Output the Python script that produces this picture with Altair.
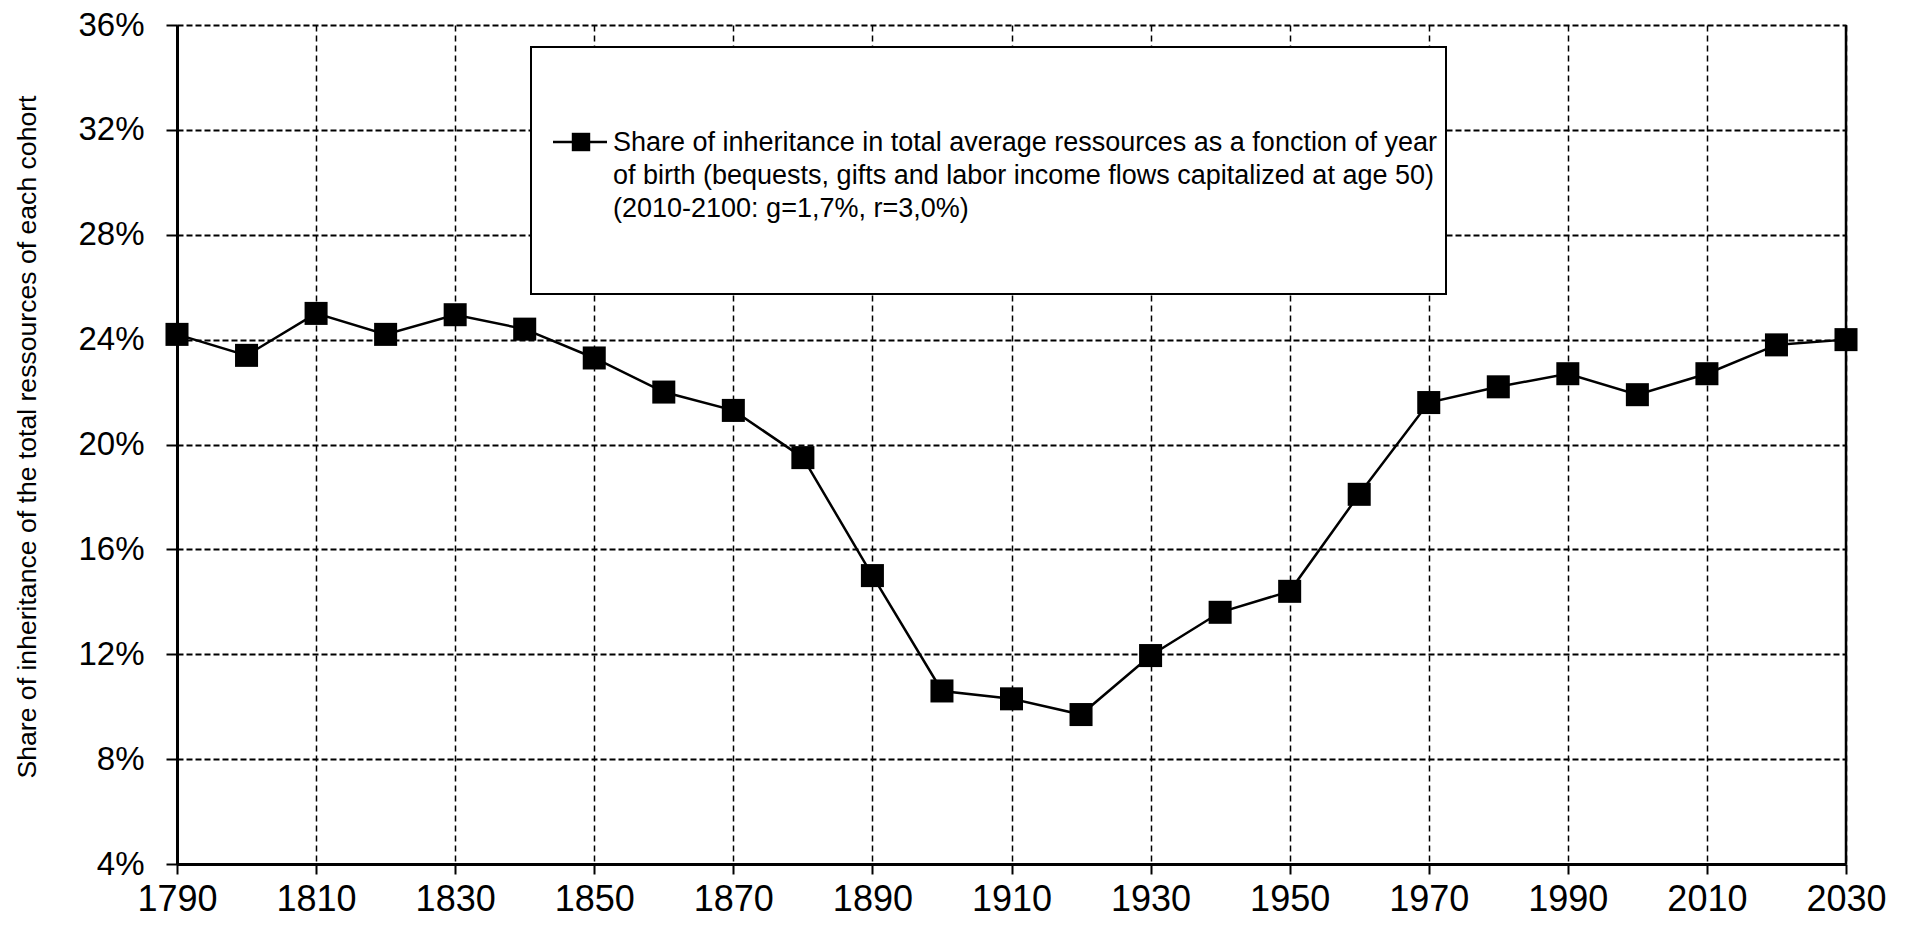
import altair as alt
import pandas as pd

# ---- data ----
years = [1790, 1800, 1810, 1820, 1830, 1840, 1850, 1860, 1870, 1880, 1890, 1900,
         1910, 1920, 1930, 1940, 1950, 1960, 1970, 1980, 1990, 2000, 2010, 2020, 2030]
shares = [24.2, 23.4, 25.0, 24.2, 24.95, 24.4, 23.3, 22.0, 21.3, 19.5, 15.0, 10.6,
          10.3, 9.7, 11.95, 13.6, 14.4, 18.1, 21.6, 22.2, 22.7, 21.9, 22.7, 23.8, 24.0]
y_ticks = [4, 8, 12, 16, 20, 24, 28, 32, 36]
x_ticks = [1790, 1810, 1830, 1850, 1870, 1890, 1910, 1930, 1950, 1970, 1990, 2010, 2030]
y_title = "Share of inheritance of the total ressources of each cohort"
legend_lines = [
    "Share of inheritance in total average ressources as a fonction of year",
    "of birth (bequests, gifts and labor income flows capitalized at age 50)",
    "(2010-2100: g=1,7%, r=3,0%)",
]

df = pd.DataFrame({"year": years, "share": shares})
one = pd.DataFrame({"a": [0]})

W, H = 1669, 839
FONT = "Liberation Sans"

xs = alt.Scale(domain=[1790, 2030], nice=False, zero=False)
ys = alt.Scale(domain=[4, 36], nice=False, zero=False)

x_axis = alt.Axis(values=x_ticks, format="d", title=None,
                  labelFontSize=36, labelFont=FONT, labelColor="black", labelPadding=8,
                  labelFlush=False, labelOverlap=False, labelBound=False,
                  tickSize=10, tickColor="black", tickWidth=2,
                  domainColor="black", domainWidth=3,
                  grid=True, gridColor="black", gridDash=[6, 4], gridWidth=1.5)
y_axis = alt.Axis(values=y_ticks, labelExpr="datum.value + '%'", title=y_title,
                  labelFontSize=33, labelFont=FONT, labelColor="black", labelPadding=22,
                  labelFlush=False, labelOverlap=False,
                  tickSize=11, tickColor="black", tickWidth=2,
                  domainColor="black", domainWidth=3,
                  grid=True, gridColor="black", gridDash=[6, 3], gridWidth=2,
                  titleFont=FONT, titleFontSize=26.6, titleFontWeight="normal", titleColor="black",
                  titleAngle=270, titleX=-150, titleY=H / 2 - 8, titleAlign="center",
                  titleBaseline="middle")

base = alt.Chart(df)
line = base.mark_line(color="black", strokeWidth=2.5).encode(
    x=alt.X("year:Q", scale=xs, axis=x_axis),
    y=alt.Y("share:Q", scale=ys, axis=y_axis),
)
pts = base.mark_point(shape="square", filled=True, color="black", size=530, opacity=1).encode(
    x=alt.X("year:Q", scale=xs),
    y=alt.Y("share:Q", scale=ys),
)

right_edge = alt.Chart(one).mark_rule(color="black", strokeWidth=2.5).encode(
    x=alt.datum(2030), y=alt.datum(4), y2=alt.datum(36)
)

# legend box (drawn manually)
box = alt.Chart(one).mark_rect(fill="white", stroke="black", strokeWidth=2).encode(
    x=alt.value(354), x2=alt.value(1269), y=alt.value(22), y2=alt.value(269)
)
leg_line = alt.Chart(one).mark_rule(color="black", strokeWidth=2.5).encode(
    x=alt.value(376), x2=alt.value(430), y=alt.value(117)
)
leg_pt = alt.Chart(one).mark_point(shape="square", filled=True, color="black", size=340, opacity=1).encode(
    x=alt.value(404), y=alt.value(117)
)
leg_text = alt.Chart(one).mark_text(
    align="left", baseline="alphabetic", font=FONT, fontSize=27, color="black",
    lineBreak="\n", lineHeight=33
).encode(
    x=alt.value(436), y=alt.value(126), text=alt.value("\n".join(legend_lines))
)

chart = alt.layer(line, right_edge, pts, box, leg_line, leg_pt, leg_text).properties(
    width=W, height=H,
    autosize=alt.AutoSizeParams(type="none"),
    padding={"left": 169, "top": 17, "right": 52, "bottom": 55},
    background="white",
).configure_view(stroke=None)

chart.save("out.html", embed_options={"renderer": "svg", "actions": False})
